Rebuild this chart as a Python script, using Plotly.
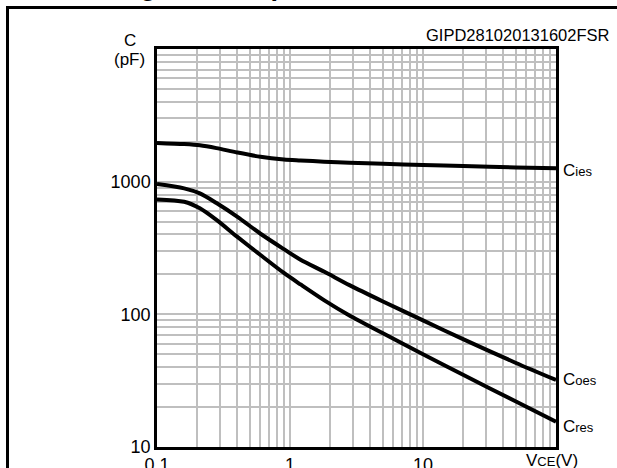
import plotly.graph_objects as go

# ---- data ----
vce = [0.1, 0.16, 0.21, 0.28, 0.4, 0.6, 0.9, 1.2, 1.8, 2.8, 5, 10, 20, 50, 100]
cies = [1960, 1920, 1880, 1790, 1660, 1540, 1470, 1445, 1415, 1390, 1365, 1335, 1310, 1280, 1260]
coes = [960, 890, 815, 690, 545, 405, 310, 258, 210, 166, 125, 90, 65, 43, 32]
cres = [735, 705, 630, 515, 385, 280, 205, 168, 128, 98, 72, 50, 35, 22, 15.5]

x_ticks = [0.1, 1, 10]
x_ticktext = ["0.1", "1", "10"]
y_ticks = [10, 100, 1000]
y_ticktext = ["10", "100", "1000"]

W, H = 617, 468
L, R, T, B = 157, 556, 49, 447


def px(x):
    return (x - L) / (R - L)


def py(y):
    return (B - y) / (B - T)


def decade_grid(lo_exp, hi_exp):
    vals = []
    for e in range(lo_exp, hi_exp):
        for m in range(1, 10):
            vals.append(m * 10 ** e)
    vals.append(10 ** hi_exp)
    return vals


xgrid = decade_grid(-1, 2)
ygrid = decade_grid(1, 4)


def fmt(v, ticks, texts):
    for t, s in zip(ticks, texts):
        if abs(v - t) < 1e-9 * max(1, t):
            return s
    return ""


FONT = "Liberation Sans, Arial, Helvetica, sans-serif"

fig = go.Figure()
for name, ys in [("Cies", cies), ("Coes", coes), ("Cres", cres)]:
    fig.add_trace(go.Scatter(x=vce, y=ys, mode="lines", name=name,
                             line=dict(color="black", width=4, shape="spline", smoothing=0.8),
                             showlegend=False, hoverinfo="skip"))

fig.update_layout(
    width=W, height=H, autosize=False,
    margin=dict(l=L, r=W - R, t=T, b=H - B, pad=0, autoexpand=False),
    paper_bgcolor="white", plot_bgcolor="white",
    font=dict(family=FONT, size=18, color="black"),
    xaxis=dict(type="log", range=[-1, 2], tickmode="array", tickvals=xgrid,
               ticktext=[fmt(v, x_ticks, x_ticktext) for v in xgrid],
               showgrid=True, gridcolor="#bfbfbf", gridwidth=2, automargin=False,
               showline=True, linecolor="black", linewidth=2.5, mirror=True,
               ticks="", zeroline=False, tickfont=dict(size=18, family=FONT)),
    yaxis=dict(type="log", range=[1, 4], tickmode="array", tickvals=ygrid,
               ticktext=[fmt(v, y_ticks, y_ticktext) for v in ygrid],
               showgrid=True, gridcolor="#bfbfbf", gridwidth=2, automargin=False,
               showline=True, linecolor="black", linewidth=2.5, mirror=True,
               ticks="", zeroline=False, tickfont=dict(size=18, family=FONT)),
)

ann = []


def sub_label(main, sub, x, y, anchor="left", after=""):
    return dict(x=px(x), y=py(y), xref="paper", yref="paper", xanchor=anchor, yanchor="middle",
                showarrow=False,
                text=f"{main}<span style='font-size:13px'>{sub}</span>{after}",
                font=dict(family=FONT, size=17, color="black"))


ann.append(sub_label("C", "ies", 561, 170))
ann.append(sub_label("C", "oes", 561, 379))
ann.append(sub_label("C", "res", 561, 426))
ann.append(sub_label("V", "CE", 524, 460, after="(V)"))
ann.append(dict(x=px(130), y=py(41), xref="paper", yref="paper", xanchor="center", yanchor="middle",
                showarrow=False, text="C", font=dict(family=FONT, size=17, color="black")))
ann.append(dict(x=px(129), y=py(60), xref="paper", yref="paper", xanchor="center", yanchor="middle",
                showarrow=False, text="(pF)", font=dict(family=FONT, size=17, color="black")))
ann.append(dict(x=px(612), y=py(35), xref="paper", yref="paper", xanchor="right", yanchor="middle",
                showarrow=False, text="GIPD281020131602FSR", font=dict(family=FONT, size=16.5, color="black")))
ann.append(dict(x=px(114), y=py(2.5), xref="paper", yref="paper", xanchor="left", yanchor="bottom",
                showarrow=False, text="<b>Figure 8. Capacitance variations</b>",
                font=dict(family=FONT, size=27, color="black")))
fig.update_layout(annotations=ann)

# outer frame: only its top and left edges fall inside the picture
frame = dict(color="black", width=3)
fig.add_shape(type="line", xref="paper", yref="paper", x0=px(7.5), x1=px(640), y0=py(7.5), y1=py(7.5),
              line=frame, layer="above")
fig.add_shape(type="line", xref="paper", yref="paper", x0=px(7.5), x1=px(7.5), y0=py(6), y1=py(490),
              line=frame, layer="above")

fig.write_html("out.html", config={"displayModeBar": False},
               post_script="document.body.style.margin='0';document.body.style.overflow='hidden';")
